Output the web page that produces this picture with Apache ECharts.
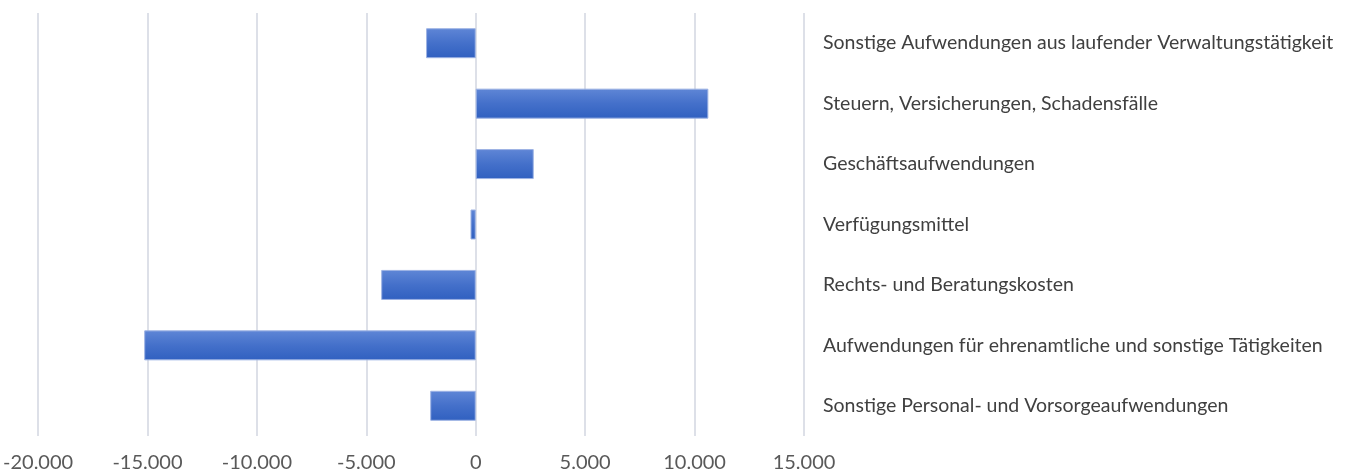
<!DOCTYPE html>
<html>
<head>
<meta charset="utf-8">
<script src="https://cdn.jsdelivr.net/npm/echarts@6/dist/echarts.min.js"></script>
<style>
  html, body { margin: 0; padding: 0; background: #fff; }
  #chart { width: 1352px; height: 474px; }
</style>
</head>
<body>
<div id="chart"></div>
<script>
// Kategorien von oben nach unten
const categories = [
    'Sonstige Aufwendungen aus laufender Verwaltungstätigkeit',
    'Steuern, Versicherungen, Schadensfälle',
    'Geschäftsaufwendungen',
    'Verfügungsmittel',
    'Rechts- und Beratungskosten',
    'Aufwendungen für ehrenamtliche und sonstige Tätigkeiten',
    'Sonstige Personal- und Vorsorgeaufwendungen'
];
const values = [-2270, 10630, 2650, -240, -4320, -15150, -2080];
const xTicks = { min: -20000, max: 15000, step: 5000 };

const myChart = echarts.init(document.getElementById('chart'));

function formatDe(v) {
    const s = Math.abs(v).toString().replace(/\B(?=(\d{3})+(?!\d))/g, '.');
    return (v < 0 ? '-' : '') + s;
}

const option = {
    animation: false,
    grid: {
        left: 38,
        right: 548,
        top: 13,
        bottom: 38
    },
    xAxis: {
        type: 'value',
        min: xTicks.min,
        max: xTicks.max,
        interval: xTicks.step,
        axisLine: { show: false },
        axisTick: { show: false },
        axisLabel: {
            formatter: formatDe,
            fontFamily: 'Lato',
            fontSize: 20,
            color: '#595959',
            margin: 17
        },
        splitLine: { lineStyle: { color: '#dde0e8', width: 2 } }
    },
    yAxis: {
        type: 'category',
        data: categories,
        inverse: true,
        position: 'right',
        axisLine: { show: false },
        axisTick: { show: false },
        axisLabel: {
            align: 'left',
            margin: 19,
            fontFamily: 'Lato',
            fontSize: 19.5,
            color: '#404040'
        }
    },
    series: [
        {
            type: 'bar',
            data: values,
            barWidth: 30,
            itemStyle: {
                color: new echarts.graphic.LinearGradient(0, 0, 0, 1, [
                    { offset: 0, color: '#5f86d6' },
                    { offset: 0.5, color: '#4470ca' },
                    { offset: 1, color: '#3060c0' }
                ]),
                borderColor: '#9db3e4',
                borderWidth: 1
            }
        }
    ]
};

myChart.setOption(option);
</script>
</body>
</html>
